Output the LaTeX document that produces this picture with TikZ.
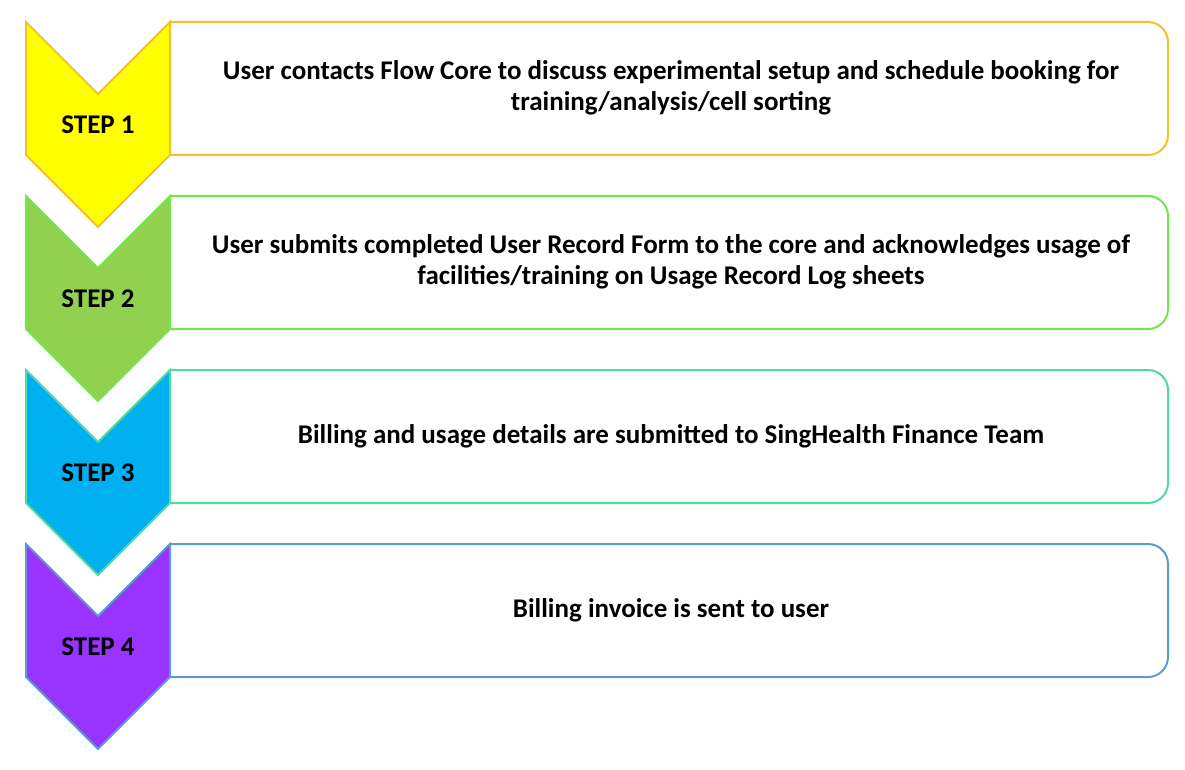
\documentclass[tikz,border=0pt]{standalone}
\usepackage{fontspec}
\setmainfont{Carlito}
\begin{document}
\begin{tikzpicture}[x=1pt,y=-1pt,line width=2pt,
  lbl/.style={font=\bfseries\fontsize{27}{31}\selectfont,align=center,inner sep=0pt},
  slbl/.style={font=\bfseries\fontsize{27}{30}\selectfont,inner sep=0pt}]
\useasboundingbox (0,0) rectangle (1185,770);
\definecolor{b1}{HTML}{F2C12E}\definecolor{f1}{HTML}{FFFF00}
\definecolor{b2}{HTML}{6EE84A}\definecolor{f2}{HTML}{92D050}
\definecolor{b3}{HTML}{4EDBA0}\definecolor{f3}{HTML}{00B0F0}
\definecolor{b4}{HTML}{5B9BD5}\definecolor{f4}{HTML}{9933FF}
\foreach \i/\t in {1/{User contacts Flow Core to discuss experimental setup and schedule booking for\\training/analysis/cell sorting},
  2/{User submits completed User Record Form to the core and acknowledges usage of\\facilities/training on Usage Record Log sheets},
  3/{Billing and usage details are submitted to SingHealth Finance Team},
  4/{Billing invoice is sent to user}}{
  \pgfmathsetmacro{\yy}{22+174*(\i-1)}
  \begin{scope}[yshift=-\yy pt]
  \draw[b\i,rounded corners=20pt] (170,0) -- (1168,0) -- (1168,133) -- (170,133);
  \draw[b\i,fill=f\i,line join=miter] (26,0) -- (98,72) -- (170,0) -- (170,133) -- (98,205) -- (26,133) -- cycle;
  \node[slbl] (s\i) at (98,103) {STEP \i};
  \node[lbl] (t\i) at (671,66) {\t};
  \end{scope}}
\end{tikzpicture}
\end{document}
